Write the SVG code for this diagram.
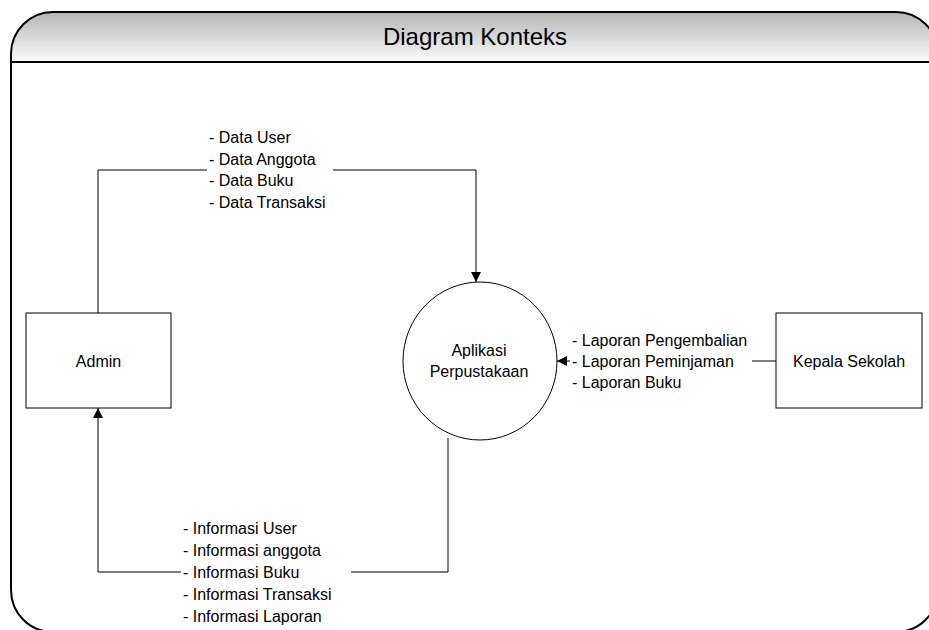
<svg xmlns="http://www.w3.org/2000/svg" width="929" height="630" viewBox="0 0 929 630">
<defs>
<linearGradient id="hdr" x1="0" y1="0" x2="0" y2="1">
<stop offset="0" stop-color="#b4b4b4"/>
<stop offset="1" stop-color="#fbfbfb"/>
</linearGradient>
<marker id="arr" viewBox="0 0 10 10" refX="10" refY="5" markerWidth="10" markerHeight="10" markerUnits="userSpaceOnUse" orient="auto">
<path d="M0,0 L10,5 L0,10 Z" fill="#000"/>
</marker>
<style>
text{font-family:"Liberation Sans",Arial,sans-serif;font-size:16px;fill:#000}
.node{fill:#fff;stroke:#000;stroke-width:1}
.conn{fill:none;stroke:#000;stroke-width:1}
.lbl{fill:#fff;stroke:none}
</style>
</defs>
<rect width="929" height="630" fill="#fff"/>
<g id="frame">
<path d="M11,62 L11,54 A42,42 0 0 1 53,12 L896,12 A42,42 0 0 1 938,54 L938,62 Z" fill="url(#hdr)"/>
<path d="M11,590 L11,54 A42,42 0 0 1 53,12 L896,12 A42,42 0 0 1 938,54 L938,590 A42,42 0 0 1 896,632 L53,632 A42,42 0 0 1 11,590 Z" fill="none" stroke="#000" stroke-width="2"/>
<line x1="11" y1="62" x2="938" y2="62" stroke="#000" stroke-width="2"/>
<text x="475" y="45" text-anchor="middle" style="font-size:24px">Diagram Konteks</text>
</g>
<g id="connectors">
<path class="conn" d="M98,313 L98,170 L476,170 L476,282" marker-end="url(#arr)"/>
<path class="conn" d="M776,361 L557,361" marker-end="url(#arr)"/>
<path class="conn" d="M448,438 L448,572 L98,572 L98,408" marker-end="url(#arr)"/>
<g id="label-data">
<rect class="lbl" x="207" y="126" width="126" height="88"/>
<text x="209" y="143">- Data User</text>
<text x="209" y="164.5">- Data Anggota</text>
<text x="209" y="186">- Data Buku</text>
<text x="209" y="207.5">- Data Transaksi</text>
</g>
<g id="label-laporan">
<rect class="lbl" x="570" y="328" width="182" height="66"/>
<text x="572" y="345.5">- Laporan Pengembalian</text>
<text x="572" y="366.5">- Laporan Peminjaman</text>
<text x="572" y="387.5">- Laporan Buku</text>
</g>
<g id="label-informasi">
<rect class="lbl" x="181" y="516" width="170" height="112"/>
<text x="183" y="533.5">- Informasi User</text>
<text x="183" y="555.5">- Informasi anggota</text>
<text x="183" y="577.5">- Informasi Buku</text>
<text x="183" y="599.5">- Informasi Transaksi</text>
<text x="183" y="621.5">- Informasi Laporan</text>
</g>
</g>
<g id="admin">
<rect class="node" x="26" y="313" width="145" height="95"/>
<text x="98.5" y="366.5" text-anchor="middle">Admin</text>
</g>
<g id="aplikasi">
<ellipse class="node" cx="480" cy="361" rx="77" ry="79"/>
<text x="479" y="356" text-anchor="middle">Aplikasi</text>
<text x="479" y="377" text-anchor="middle">Perpustakaan</text>
</g>
<g id="kepala">
<rect class="node" x="776" y="313" width="146" height="95"/>
<text x="849" y="366.5" text-anchor="middle">Kepala Sekolah</text>
</g>
</svg>
